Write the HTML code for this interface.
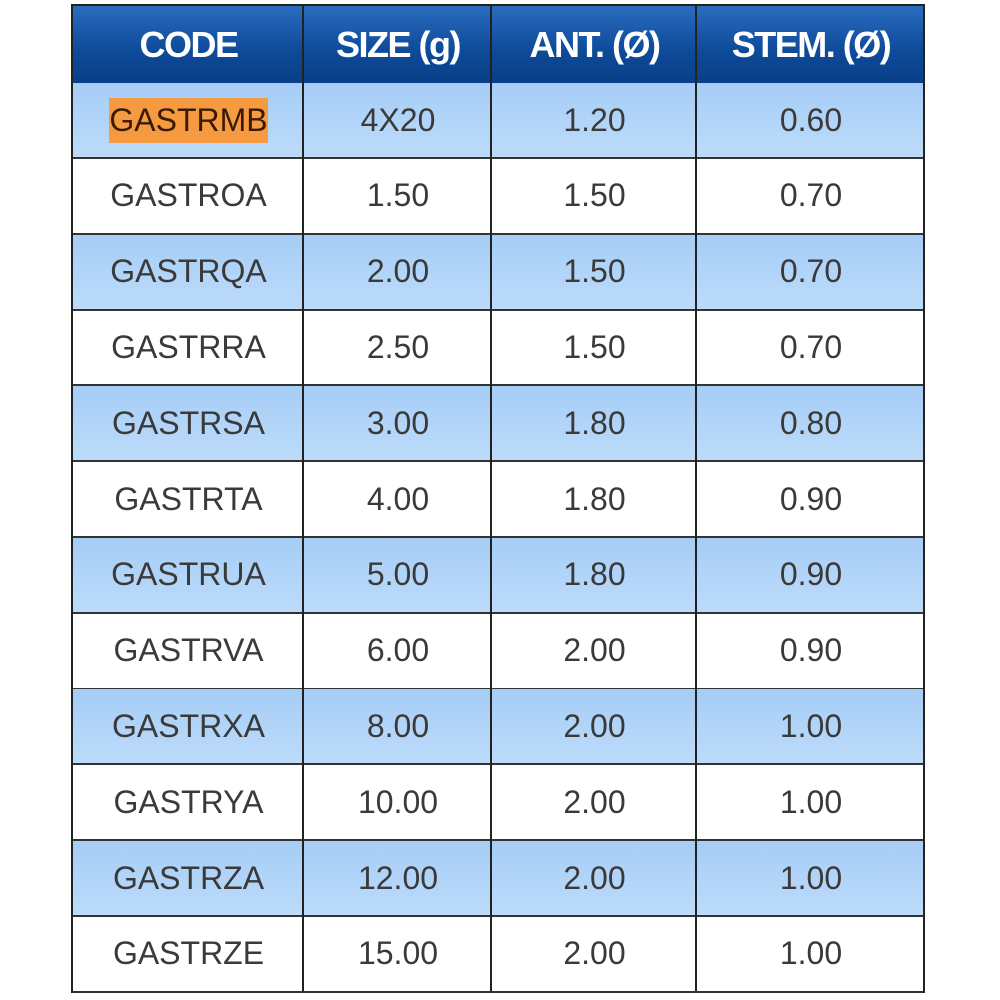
<!DOCTYPE html>
<html><head><style>
body{margin:0;width:1000px;height:1000px;background:#fff;position:relative;overflow:hidden;font-family:"Liberation Sans",sans-serif}
.t{position:absolute;left:71px;top:4px;width:854px;height:989px;border:2px solid #222;box-sizing:border-box}
.h{position:absolute;left:0;top:0;width:100%;height:77px;background:linear-gradient(#2a6cc0,#0d4a98 60%,#0a3f88);border-bottom:2px solid #1b2a44}
.r{position:absolute;left:0;width:100%;height:76px;border-bottom:2px solid #333;box-sizing:border-box}
.b{background:linear-gradient(#a6cdf6,#bcdbfa)}
.c{position:absolute;top:0;height:100%;display:flex;align-items:center;justify-content:center;font-size:32px;color:#3a3a3a}
.h .c{color:#fff;font-weight:bold;font-size:36px;letter-spacing:-1.5px}
.v{position:absolute;top:0;width:2px;height:100%;background:#222}
.hl{background:#f59a40;padding:4px 0;color:#3a1a00}
</style></head><body>
<div class="t">
<div class="h">
<div class="c" style="left:0;width:231px">CODE</div>
<div class="c" style="left:231px;width:188px">SIZE (g)</div>
<div class="c" style="left:419px;width:205px">ANT. (Ø)</div>
<div class="c" style="left:624px;width:228px">STEM. (Ø)</div>
</div>
<div id="rows"></div>
<div class="v" style="left:229px"></div>
<div class="v" style="left:417px"></div>
<div class="v" style="left:622px"></div>
</div>
<script>
var d=[["GASTRMB","4X20","1.20","0.60"],["GASTROA","1.50","1.50","0.70"],["GASTRQA","2.00","1.50","0.70"],["GASTRRA","2.50","1.50","0.70"],["GASTRSA","3.00","1.80","0.80"],["GASTRTA","4.00","1.80","0.90"],["GASTRUA","5.00","1.80","0.90"],["GASTRVA","6.00","2.00","0.90"],["GASTRXA","8.00","2.00","1.00"],["GASTRYA","10.00","2.00","1.00"],["GASTRZA","12.00","2.00","1.00"],["GASTRZE","15.00","2.00","1.00"]];
var L=[[0,231],[231,188],[419,205],[624,228]],h="";
d.forEach(function(r,i){h+='<div class="r'+(i%2==0?' b':'')+'" style="top:'+(77+i*75.8)+'px">';
r.forEach(function(x,j){h+='<div class="c" style="left:'+L[j][0]+'px;width:'+L[j][1]+'px">'+(i==0&&j==0?'<span class="hl">'+x+'</span>':x)+'</div>';});h+='</div>';});
document.getElementById('rows').outerHTML=h;
</script>
</body></html>
